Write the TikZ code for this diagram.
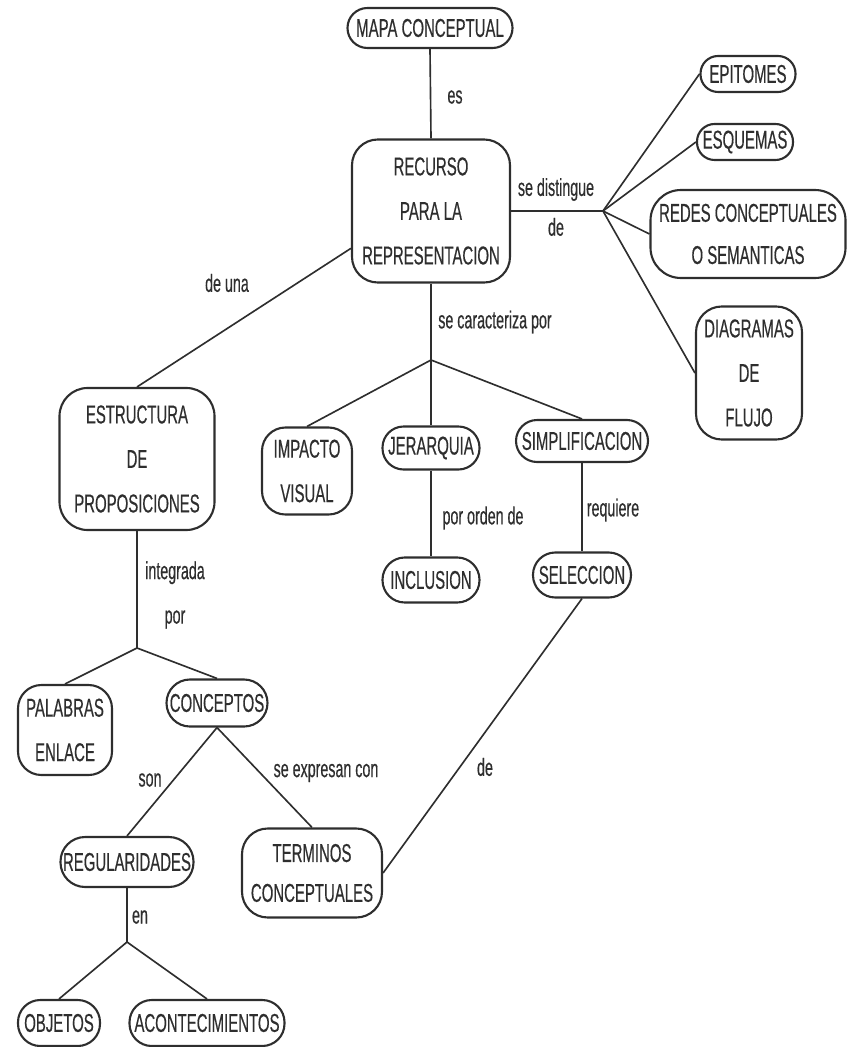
\documentclass[tikz,border=0pt]{standalone}
\usepackage{fontspec}
\setmainfont{Liberation Sans}[FakeStretch=0.58, FakeBold=0.4]
\usetikzlibrary{positioning}
\definecolor{ink}{HTML}{2E2E2E}

\begin{document}
\begin{tikzpicture}[
  x=0.03cm, y=-0.03cm,
  concept/.style={
    draw=ink, line width=1.8pt, rounded corners=#1, text=ink,
    align=center, inner sep=0pt, font=\fontsize{22}{38}\selectfont
  },
  concept/.default=16pt,
  linkword/.style={
    text=ink, align=center, inner sep=1pt, font=\fontsize{21}{36}\selectfont
  },
  link/.style={draw=ink, line width=1.4pt},
]

% ============================================================
% Page frame
% ============================================================
\useasboundingbox (0,0) rectangle (851,1047);

% ============================================================
% Top: mapa conceptual -> recurso
% ============================================================
\node[concept=17pt, minimum width=4.95cm, minimum height=1.2cm] (mapa) at (430,28)
  {MAPA CONCEPTUAL};

\node[concept=22pt, minimum width=4.74cm, minimum height=4.29cm] (recurso) at (431,211)
  {RECURSO\\PARA LA\\REPRESENTACION};

% ============================================================
% Right branch: se distingue de
% ============================================================
\coordinate (dist-hub) at (603,211);

\node[concept=15pt, minimum width=2.85cm, minimum height=1.08cm] (epitomes) at (748,74)
  {EPITOMES};
\node[concept=15pt, minimum width=2.88cm, minimum height=1.08cm] (esquemas) at (745,142)
  {ESQUEMAS};
\node[concept=26pt, minimum width=5.85cm, minimum height=2.64cm] (redes) at (748,234)
  {REDES CONCEPTUALES\\[-2pt]O SEMANTICAS};
\node[concept=22pt, minimum width=3.18cm, minimum height=3.99cm] (diagramas) at (749,373)
  {DIAGRAMAS\\DE\\FLUJO};

% ============================================================
% Middle branch: se caracteriza por
% ============================================================
\coordinate (car-hub) at (431,360);

\node[concept=20pt, minimum width=2.7cm, minimum height=2.61cm] (impacto) at (307,471)
  {IMPACTO\\VISUAL};
\node[concept=18pt, minimum width=2.91cm, minimum height=1.29cm] (jerarquia) at (431,448)
  {JERARQUIA};
\node[concept=18pt, minimum width=3.96cm, minimum height=1.26cm] (simplificacion) at (582,441)
  {SIMPLIFICACION};
\node[concept=19pt, minimum width=2.91cm, minimum height=1.35cm] (inclusion) at (431,580)
  {INCLUSION};
\node[concept=19pt, minimum width=2.94cm, minimum height=1.35cm] (seleccion) at (582,575)
  {SELECCION};

% ============================================================
% Left branch: de una estructura de proposiciones
% ============================================================
\node[concept=24pt, minimum width=4.65cm, minimum height=4.26cm] (estructura) at (137,459)
  {ESTRUCTURA\\DE\\PROPOSICIONES};

\coordinate (int-hub) at (137,648);

\node[concept=20pt, minimum width=2.82cm, minimum height=2.7cm] (palabras) at (65,730)
  {PALABRAS\\ENLACE};
\node[concept=20pt, minimum width=3.03cm, minimum height=1.41cm] (conceptos) at (217,703)
  {CONCEPTOS};
\node[concept=21pt, minimum width=3.99cm, minimum height=1.5cm] (regularidades) at (127,862)
  {REGULARIDADES};
\node[concept=22pt, minimum width=4.2cm, minimum height=2.67cm] (terminos) at (312,873)
  {TERMINOS\\[-4pt]CONCEPTUALES};

\coordinate (en-hub) at (127,942);

\node[concept=19pt, minimum width=2.46cm, minimum height=1.38cm] (objetos) at (59,1023)
  {OBJETOS};
\node[concept=19pt, minimum width=4.65cm, minimum height=1.38cm] (acontecimientos) at (207,1023)
  {ACONTECIMIENTOS};

% ============================================================
% Linking words
% ============================================================
\node[linkword] (lw-es) at (455,97) {es};
\node[linkword] (lw-distingue) at (556,207) {se distingue\\[-2pt]de};
\node[linkword] (lw-deuna) at (227,283) {de una};
\node[linkword] (lw-caracteriza) at (495,322) {se caracteriza por};
\node[linkword] (lw-orden) at (483,518) {por orden de};
\node[linkword] (lw-requiere) at (613,510) {requiere};
\node[linkword] (lw-de) at (485,767) {de};
\node[linkword] (lw-integrada) at (175,595) {integrada\\[2pt]por};
\node[linkword] (lw-son) at (150,780) {son};
\node[linkword] (lw-expresan) at (326,773) {se expresan con};
\node[linkword] (lw-en) at (140,917) {en};

% ============================================================
% Connectors
% ============================================================
\draw[link] (mapa.south) -- (recurso.north);

\draw[link] (recurso.east) -- (dist-hub);
\draw[link] (dist-hub) -- (epitomes.west);
\draw[link] (dist-hub) -- (esquemas.west);
\draw[link] (dist-hub) -- (redes.west);
\draw[link] (dist-hub) -- (diagramas.west);

\draw[link] (recurso.south) -- (car-hub);
\draw[link] (car-hub) -- (impacto.north);
\draw[link] (car-hub) -- (jerarquia.north);
\draw[link] (car-hub) -- (simplificacion.north);
\draw[link] (jerarquia.south) -- (inclusion.north);
\draw[link] (simplificacion.south) -- (seleccion.north);
\draw[link] (seleccion.south) -- (terminos.east);

\draw[link] (recurso.205) -- (estructura.north);
\draw[link] (estructura.south) -- (int-hub);
\draw[link] (int-hub) -- (palabras.north);
\draw[link] (int-hub) -- (conceptos.north);
\draw[link] (conceptos.south) -- (regularidades.north);
\draw[link] (conceptos.south) -- (terminos.north);
\draw[link] (regularidades.south) -- (en-hub);
\draw[link] (en-hub) -- (objetos.north);
\draw[link] (en-hub) -- (acontecimientos.north);

\end{tikzpicture}
\end{document}
